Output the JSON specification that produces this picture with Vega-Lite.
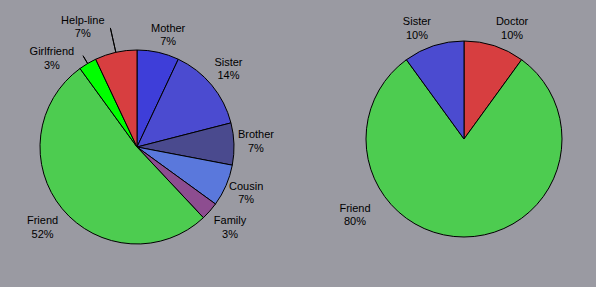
{
  "$schema": "https://vega.github.io/schema/vega-lite/v6.json",
  "width": 596,
  "height": 287,
  "autosize": {"type": "none"},
  "padding": 0,
  "background": "#9a9aa2",
  "config": {
    "view": {"stroke": null},
    "text": {"font": "Liberation Sans", "fontSize": 11, "lineHeight": 13.5, "fill": "black", "align": "center", "baseline": "middle", "lineBreak": "\n"}
  },
  "datasets": {
    "left": [
      {"i": 1, "who": "Mother", "pct": 7, "label": "Mother\n7%"},
      {"i": 2, "who": "Sister", "pct": 14, "label": "Sister\n14%"},
      {"i": 3, "who": "Brother", "pct": 7, "label": "Brother\n7%"},
      {"i": 4, "who": "Cousin", "pct": 7, "label": "Cousin\n7%"},
      {"i": 5, "who": "Family", "pct": 3, "label": "Family\n3%"},
      {"i": 6, "who": "Friend", "pct": 52, "label": "Friend\n52%"},
      {"i": 7, "who": "Girlfriend", "pct": 3, "label": "Girlfriend\n3%"},
      {"i": 8, "who": "Help-line", "pct": 7, "label": "Help-line\n7%"}
    ],
    "right": [
      {"i": 1, "who": "Doctor", "pct": 10, "label": "Doctor\n10%"},
      {"i": 2, "who": "Friend", "pct": 80, "label": "Friend\n80%"},
      {"i": 3, "who": "Sister", "pct": 10, "label": "Sister\n10%"}
    ]
  },
  "resolve": {"scale": {"theta": "independent"}},
  "layer": [
    {
      "data": {"name": "left"},
      "mark": {"type": "arc", "x": 137, "y": 147, "outerRadius": 97, "stroke": "black", "strokeWidth": 1},
      "encoding": {
        "theta": {"field": "pct", "type": "quantitative", "stack": true},
        "order": {"field": "i", "type": "quantitative"},
        "color": {
          "field": "who", "type": "nominal", "legend": null,
          "scale": {
            "domain": ["Mother", "Sister", "Brother", "Cousin", "Family", "Friend", "Girlfriend", "Help-line", "Doctor"],
            "range": ["#3e3ed9", "#4b4bd0", "#4a4a8e", "#5a78dc", "#8d4d90", "#4dcc50", "#00ff00", "#d73e40", "#d73e40"]
          }
        }
      }
    },
    {
      "data": {"name": "left"},
      "mark": {"type": "text", "x": 137, "y": 147, "radius": 120, "dx": -1, "dy": -8},
      "encoding": {
        "theta": {"field": "pct", "type": "quantitative", "stack": true},
        "order": {"field": "i", "type": "quantitative"},
        "detail": {"field": "who", "type": "nominal"},
        "text": {"field": "label", "type": "nominal"},
        "opacity": {"condition": {"test": "indexof(['Sister','Brother','Cousin'], datum.who) >= 0", "value": 1}, "value": 0}
      }
    },
    {
      "data": {"name": "left"},
      "mark": {"type": "text", "x": 137, "y": 147, "radius": 120, "dx": 5, "dy": -1},
      "encoding": {
        "theta": {"field": "pct", "type": "quantitative", "stack": true},
        "order": {"field": "i", "type": "quantitative"},
        "detail": {"field": "who", "type": "nominal"},
        "text": {"field": "label", "type": "nominal"},
        "opacity": {"condition": {"test": "datum.who === 'Mother'", "value": 1}, "value": 0}
      }
    },
    {
      "data": {"name": "left"},
      "mark": {"type": "text", "x": 137, "y": 147, "radius": 120, "dx": 3, "dy": -5},
      "encoding": {
        "theta": {"field": "pct", "type": "quantitative", "stack": true},
        "order": {"field": "i", "type": "quantitative"},
        "detail": {"field": "who", "type": "nominal"},
        "text": {"field": "label", "type": "nominal"},
        "opacity": {"condition": {"test": "datum.who === 'Family'", "value": 1}, "value": 0}
      }
    },
    {
      "data": {"name": "left"},
      "mark": {"type": "text", "x": 137, "y": 147, "radius": 120, "dx": -2, "dy": -2},
      "encoding": {
        "theta": {"field": "pct", "type": "quantitative", "stack": true},
        "order": {"field": "i", "type": "quantitative"},
        "detail": {"field": "who", "type": "nominal"},
        "text": {"field": "label", "type": "nominal"},
        "opacity": {"condition": {"test": "datum.who === 'Friend'", "value": 1}, "value": 0}
      }
    },
    {
      "data": {"name": "left"},
      "mark": {"type": "text", "x": 137, "y": 147, "radius": 120, "dx": -24, "dy": 8.5},
      "encoding": {
        "theta": {"field": "pct", "type": "quantitative", "stack": true},
        "order": {"field": "i", "type": "quantitative"},
        "detail": {"field": "who", "type": "nominal"},
        "text": {"field": "label", "type": "nominal"},
        "opacity": {"condition": {"test": "datum.who === 'Girlfriend'", "value": 1}, "value": 0}
      }
    },
    {
      "data": {"name": "left"},
      "mark": {"type": "text", "x": 137, "y": 147, "radius": 120, "dx": -28, "dy": -9},
      "encoding": {
        "theta": {"field": "pct", "type": "quantitative", "stack": true},
        "order": {"field": "i", "type": "quantitative"},
        "detail": {"field": "who", "type": "nominal"},
        "text": {"field": "label", "type": "nominal"},
        "opacity": {"condition": {"test": "datum.who === 'Help-line'", "value": 1}, "value": 0}
      }
    },
    {
      "data": {"name": "left"},
      "transform": [
        {"stack": "pct", "groupby": [], "sort": [{"field": "i", "order": "ascending"}], "as": ["a0", "a1"]}
      ],
      "mark": {"type": "arc", "x": 137, "y": 147, "innerRadius": 97, "outerRadius": 122, "thetaOffset": 0.2199, "theta2Offset": 0.2199, "fill": null, "stroke": "black", "strokeWidth": 1},
      "encoding": {
        "theta": {"field": "a0", "type": "quantitative", "stack": null, "scale": {"domain": [0, 100]}},
        "theta2": {"field": "a0"},
        "strokeOpacity": {"condition": {"test": "datum.who === 'Help-line'", "value": 1}, "value": 0}
      }
    },
    {
      "data": {"name": "left"},
      "transform": [
        {"stack": "pct", "groupby": [], "sort": [{"field": "i", "order": "ascending"}], "as": ["a0", "a1"]}
      ],
      "mark": {"type": "arc", "x": 137, "y": 147, "innerRadius": 97, "outerRadius": 106, "thetaOffset": 0.0942, "theta2Offset": 0.0942, "fill": null, "stroke": "black", "strokeWidth": 1},
      "encoding": {
        "theta": {"field": "a0", "type": "quantitative", "stack": null, "scale": {"domain": [0, 100]}},
        "theta2": {"field": "a0"},
        "strokeOpacity": {"condition": {"test": "datum.who === 'Girlfriend'", "value": 1}, "value": 0}
      }
    },
    {
      "data": {"name": "right"},
      "mark": {"type": "arc", "x": 464, "y": 139, "outerRadius": 98, "stroke": "black", "strokeWidth": 1},
      "encoding": {
        "theta": {"field": "pct", "type": "quantitative", "stack": true},
        "order": {"field": "i", "type": "quantitative"},
        "color": {"field": "who", "type": "nominal", "legend": null}
      }
    },
    {
      "data": {"name": "right"},
      "mark": {"type": "text", "x": 464, "y": 139, "radius": 120, "dx": 11, "dy": -2.5},
      "encoding": {
        "theta": {"field": "pct", "type": "quantitative", "stack": true},
        "order": {"field": "i", "type": "quantitative"},
        "detail": {"field": "who", "type": "nominal"},
        "text": {"field": "label", "type": "nominal"},
        "opacity": {"condition": {"test": "datum.who === 'Doctor'", "value": 1}, "value": 0}
      }
    },
    {
      "data": {"name": "right"},
      "mark": {"type": "text", "x": 464, "y": 139, "radius": 120, "dx": -10, "dy": -2.5},
      "encoding": {
        "theta": {"field": "pct", "type": "quantitative", "stack": true},
        "order": {"field": "i", "type": "quantitative"},
        "detail": {"field": "who", "type": "nominal"},
        "text": {"field": "label", "type": "nominal"},
        "opacity": {"condition": {"test": "datum.who === 'Sister'", "value": 1}, "value": 0}
      }
    },
    {
      "data": {"name": "right"},
      "mark": {"type": "text", "x": 464, "y": 139, "radius": 120, "dx": -109, "dy": -50.5},
      "encoding": {
        "theta": {"field": "pct", "type": "quantitative", "stack": true},
        "order": {"field": "i", "type": "quantitative"},
        "detail": {"field": "who", "type": "nominal"},
        "text": {"field": "label", "type": "nominal"},
        "opacity": {"condition": {"test": "datum.who === 'Friend'", "value": 1}, "value": 0}
      }
    }
  ]
}
